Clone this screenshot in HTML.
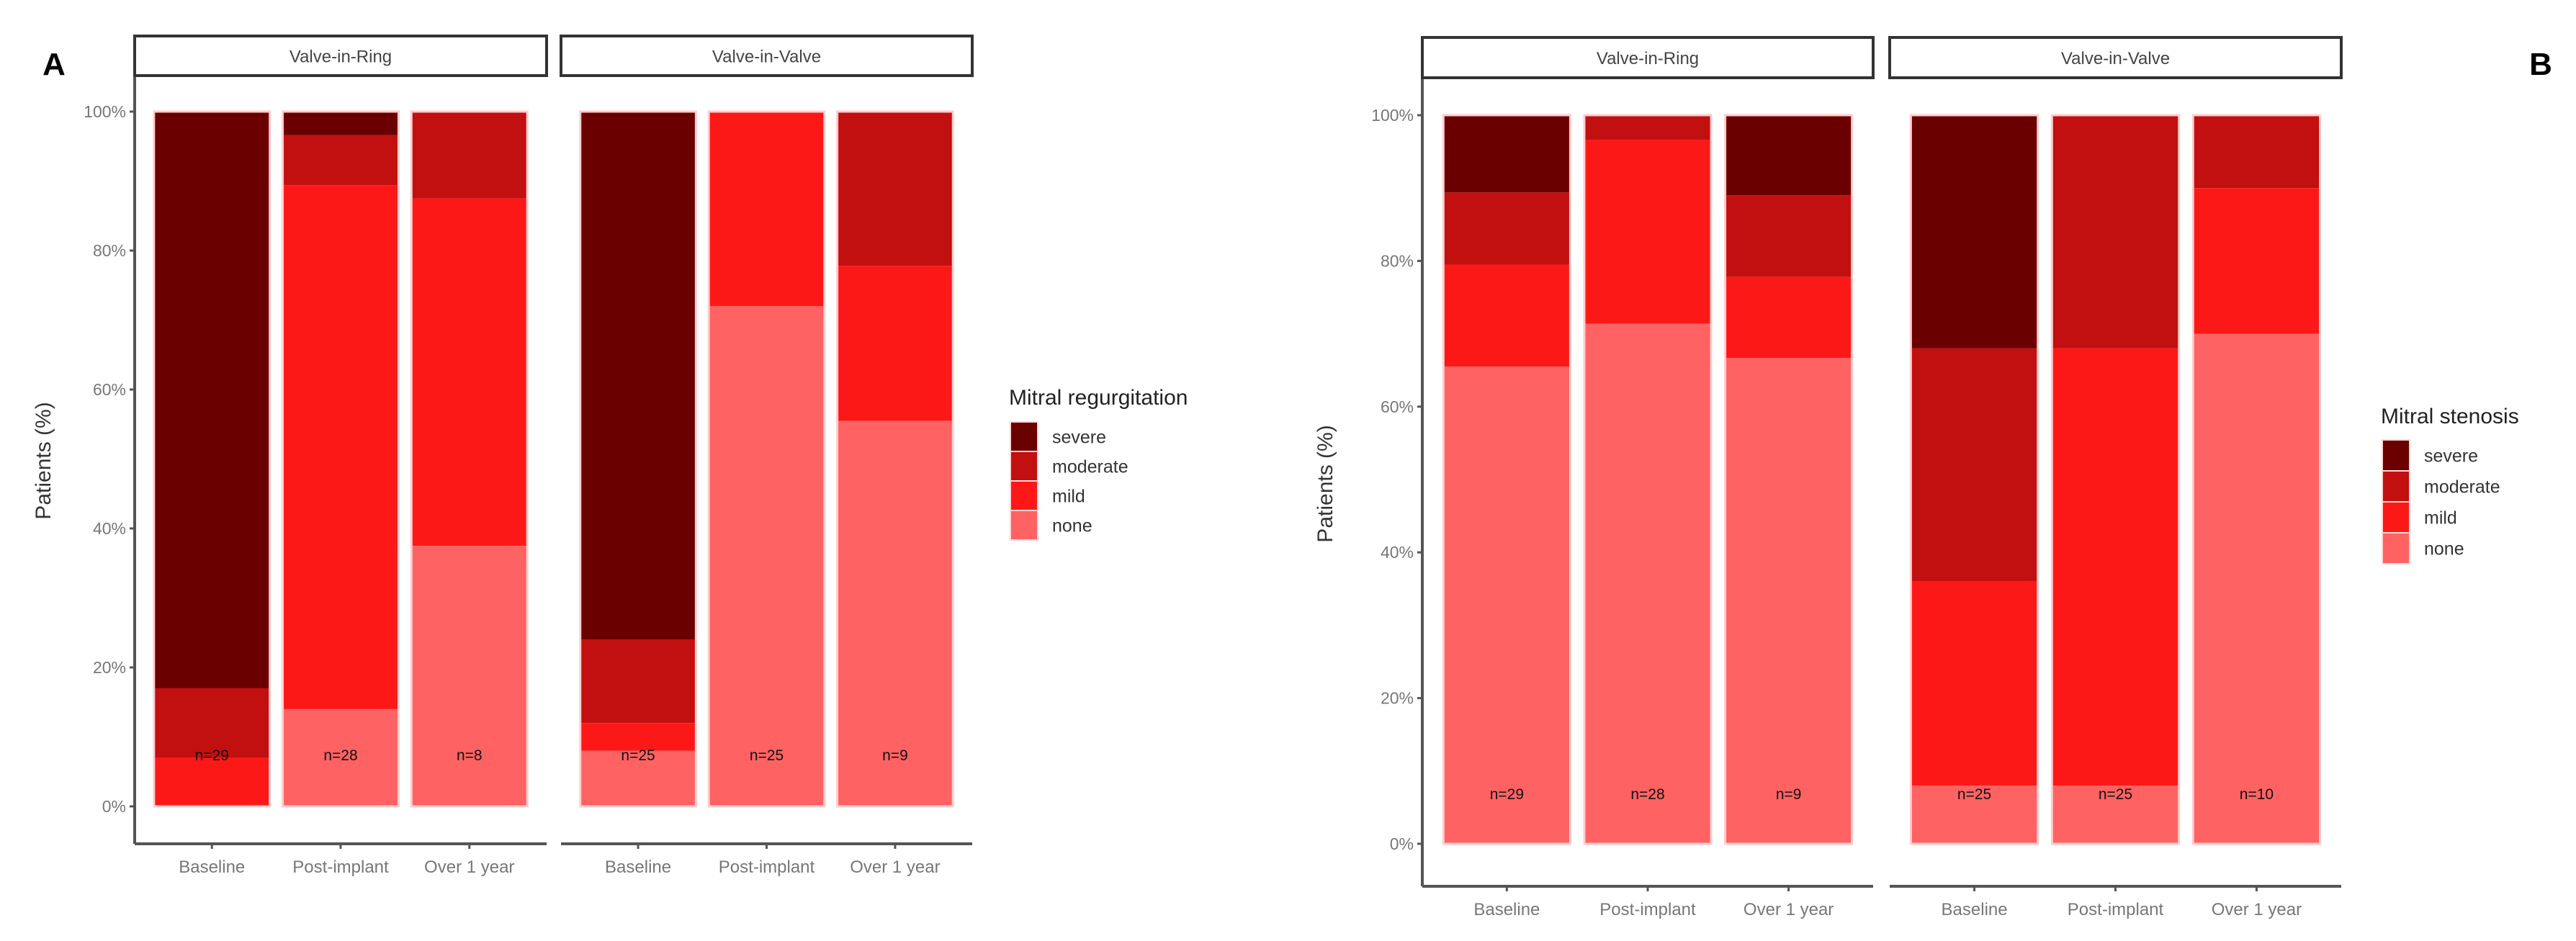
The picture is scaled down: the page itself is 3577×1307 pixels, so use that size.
<!DOCTYPE html>
<html><head><meta charset="utf-8"><style>
html,body{margin:0;padding:0;background:#fff;}
svg{display:block;font-family:"Liberation Sans",sans-serif;}
</style></head><body>
<svg id="chart" width="3577" height="1307" viewBox="0 0 3577 1307" xmlns="http://www.w3.org/2000/svg"></svg>
<script>
const categories = ["Baseline","Post-implant","Over 1 year"];
const facets = ["Valve-in-Ring","Valve-in-Valve"];
const levels = ["severe","moderate","mild","none"];
const yTicks = [0,20,40,60,80,100];
// Panel A: mitral regurgitation, % per level
const regurgNone = [[0,14,37.5],[8,72,55.5]];
const regurgMild = [[7,75.4,50],[4,28,22.3]];
const regurgModerate = [[10,7.2,12.5],[12,0,22.2]];
const regurgSevere = [[83,3.4,0],[76,0,0]];
const regurgN = [["n=29","n=28","n=8"],["n=25","n=25","n=9"]];
// Panel B: mitral stenosis
const stenNone = [[65.5,71.4,66.7],[8,8,70]];
const stenMild = [[14,25.2,11.1],[28,60,20]];
const stenModerate = [[9.9,3.4,11.2],[32,32,10]];
const stenSevere = [[10.6,0,11],[32,0,0]];
const stenN = [["n=29","n=28","n=9"],["n=25","n=25","n=10"]];

const colors = {severe:"#6b0000",moderate:"#c20f0f",mild:"#fd1818",none:"#ff6262"};
const NS="http://www.w3.org/2000/svg";
const svg=document.getElementById('chart');
function mk(tag,attrs,parent){const e=document.createElementNS(NS,tag);for(const k in attrs)e.setAttribute(k,attrs[k]);(parent||svg).appendChild(e);return e;}

function drawPanel(cfg){
  const g=mk('g',{});
  
  
  const y=v=>cfg.y0-(v/100)*(cfg.y0-cfg.y100);
  const ax=mk('line',{x1:cfg.panels[0][0],x2:cfg.panels[0][0],y1:cfg.stripBottom,y2:cfg.axisY,stroke:'#555','stroke-width':4},g);
  
  
  yTicks.forEach(t=>{
    mk('line',{x1:cfg.panels[0][0]-7,x2:cfg.panels[0][0],y1:y(t),y2:y(t),stroke:'#555','stroke-width':3},g);
    const tx=mk('text',{x:cfg.panels[0][0]-12,y:y(t)+8,'text-anchor':'end','font-size':23,fill:'#777'},g);
    tx.textContent=t+'%';
    
    
  });
  const yt=mk('text',{x:0,y:0,'text-anchor':'middle','font-size':30,fill:'#333',transform:`translate(${cfg.yTitleX},${cfg.yTitleY}) rotate(-90)`},g);
  yt.textContent='Patients (%)';
  
  
  cfg.panels.forEach((p,fi)=>{
    const [x0,x1]=p;
    const unit=(x1-x0)/3.2;
    const sr=mk('rect',{x:x0,y:cfg.stripTop,width:x1-x0,height:cfg.stripBottom-cfg.stripTop,fill:'#fff',stroke:'#333','stroke-width':4},g);
    
    
    const st=mk('text',{x:(x0+x1)/2,y:(cfg.stripTop+cfg.stripBottom)/2+9,'text-anchor':'middle','font-size':24,fill:'#444'},g);
    st.textContent=facets[fi];
    
    
    const xl=mk('line',{x1:x0,x2:x1,y1:cfg.axisY,y2:cfg.axisY,stroke:'#555','stroke-width':4},g);
    
    
    categories.forEach((c,ci)=>{
      const cx=x0+(0.6+ci)*unit, bw=0.9*unit;
      let cum=0;
      const segs=[['none',cfg.none],['mild',cfg.mild],['moderate',cfg.moderate],['severe',cfg.severe]];
      segs.forEach(([lv,arr])=>{
        const v=arr[fi][ci];
        if(v>0){
          const r=mk('rect',{x:cx-bw/2,y:y(cum+v),width:bw,height:y(cum)-y(cum+v),fill:colors[lv]},g);
          
          
        }
        cum+=v;
      });
      const ol=mk('rect',{x:cx-bw/2,y:y(cum),width:bw,height:y(0)-y(cum),fill:'none',stroke:'#ffcccc','stroke-width':3},g);
      
      
      const nt=mk('text',{x:cx,y:cfg.nY+7,'text-anchor':'middle','font-size':21,fill:'#111'},g);
      nt.textContent=cfg.n[fi][ci];
      
      
      mk('line',{x1:cx,x2:cx,y1:cfg.axisY,y2:cfg.axisY+7,stroke:'#555','stroke-width':3},g);
      const xt=mk('text',{x:cx,y:cfg.axisY+40,'text-anchor':'middle','font-size':24,fill:'#777'},g);
      xt.textContent=c;
      
      
    });
  });
  const lt=mk('text',{x:cfg.legX,y:cfg.legTitleY,'font-size':30,fill:'#222'},g);
  lt.textContent=cfg.legTitle;
  
  
  levels.forEach((lv,i)=>{
    const ky=cfg.legKeyY+i*cfg.keyH;
    const k=mk('rect',{x:cfg.legX+2,y:ky,width:38,height:cfg.keyH,fill:colors[lv],stroke:'#ffd6d6','stroke-width':2},g);
    
    
    const kt=mk('text',{x:cfg.legX+60,y:ky+cfg.keyH/2+9,'font-size':25,fill:'#333'},g);
    kt.textContent=lv;
    
    
  });
  const pl=mk('text',{x:cfg.labX,y:cfg.labY,'font-size':44,'font-weight':'bold',fill:'#000','text-anchor':'middle'},g);
  pl.textContent=cfg.label;
  
  
}

drawPanel({name:'panel-a-regurgitation',panels:[[187,759],[779,1350]],y0:1120,y100:155,stripTop:50,stripBottom:105,axisY:1172,
  none:regurgNone,mild:regurgMild,moderate:regurgModerate,severe:regurgSevere,n:regurgN,nY:1049,
  yTitleX:70,yTitleY:640,legX:1401,legTitleY:562,legKeyY:586,keyH:41,legTitle:'Mitral regurgitation',label:'A',labX:75,labY:104});
drawPanel({name:'panel-b-stenosis',panels:[[1975,2601],[2624,3251]],y0:1172,y100:160,stripTop:52,stripBottom:108,axisY:1231,
  none:stenNone,mild:stenMild,moderate:stenModerate,severe:stenSevere,n:stenN,nY:1103,
  yTitleX:1850,yTitleY:672,legX:3306,legTitleY:588,legKeyY:611,keyH:43,legTitle:'Mitral stenosis',label:'B',labX:3528,labY:104});
</script>
</body></html>
